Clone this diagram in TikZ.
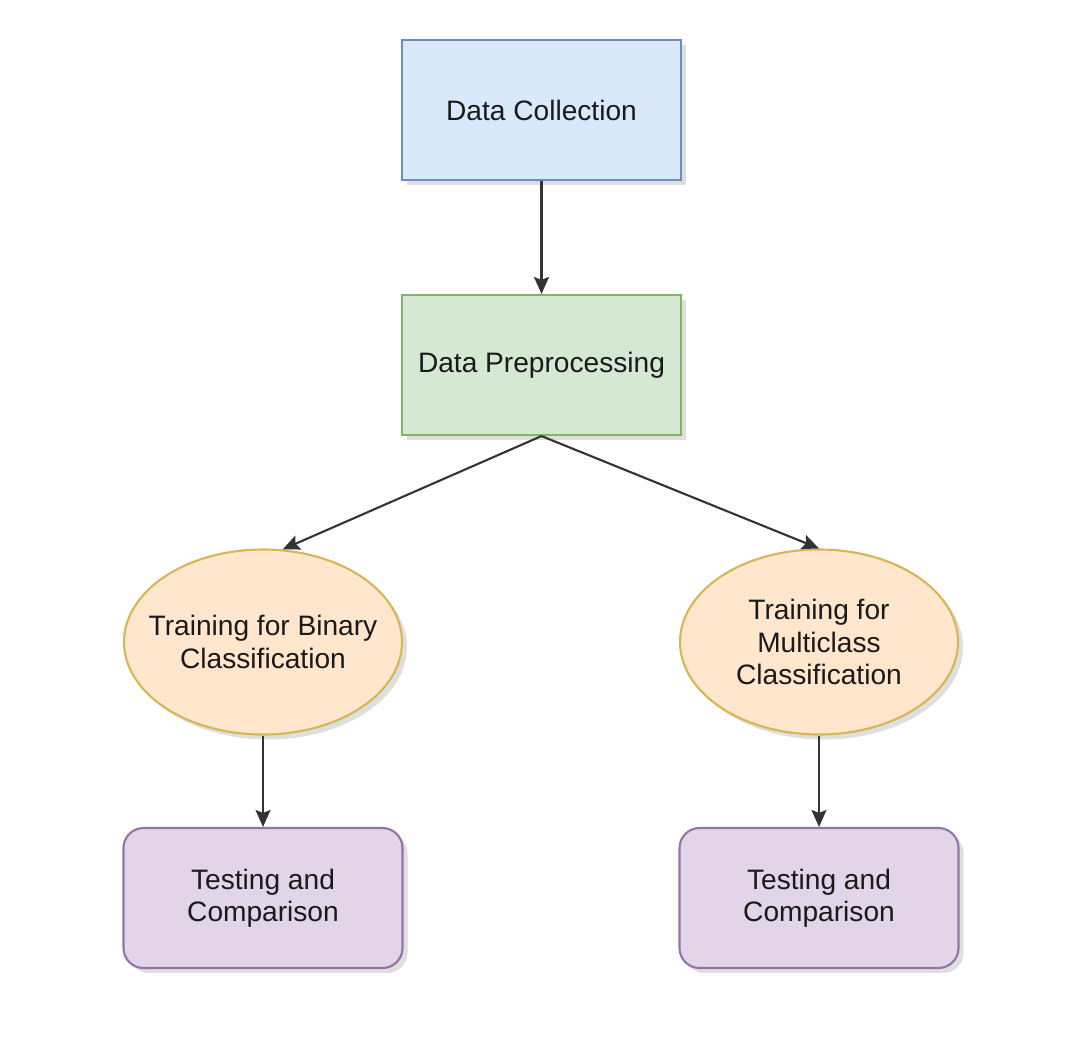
\documentclass[tikz,border=0pt]{standalone}
\usepackage{fontspec}
\setmainfont{Liberation Sans}
\usetikzlibrary{arrows.meta,shapes.geometric,shadows}

\definecolor{blueFill}{HTML}{DAE8FC}
\definecolor{blueLine}{HTML}{6C8EBF}
\definecolor{greenFill}{HTML}{D5E8D4}
\definecolor{greenLine}{HTML}{82B366}
\definecolor{orangeFill}{HTML}{FFE6CC}
\definecolor{orangeLine}{HTML}{D6B656}
\definecolor{purpleFill}{HTML}{E1D5E7}
\definecolor{purpleLine}{HTML}{9673A6}
\definecolor{textGray}{HTML}{1A1A1A}

\tikzset{
  shade box/.style={drop shadow={opacity=0.25,shadow xshift=0.05cm,shadow yshift=-0.05cm}},
  stage/.style={draw,line width=0.6pt,minimum width=2.79cm,minimum height=1.40cm,
    align=center,text=textGray,font=\fontsize{8}{9.2}\selectfont,shade box},
  trainer/.style={stage,ellipse,minimum width=2.78cm,minimum height=1.85cm,
    fill=orangeFill,draw=orangeLine,inner xsep=-0.5cm,inner ysep=0pt},
  tester/.style={stage,rounded corners=0.2cm,fill=purpleFill,draw=purpleLine},
  flow/.style={line width=0.6pt,draw=black!80,
    -{Stealth[length=0.17cm,width=0.15cm,inset=0.03cm]}}
}

\begin{document}
\begin{tikzpicture}
  \useasboundingbox (0,0) rectangle (10.8,-10.42);

  % top of the pipeline
  \node[stage,fill=blueFill,draw=blueLine] (collect) at (5.415,-1.10) {Data Collection};
  \node[stage,fill=greenFill,draw=greenLine] (prep) at (5.415,-3.65) {Data Preprocessing};

  % two training branches
  \node[trainer] (trb) at (2.63,-6.42) {Training for Binary\\Classification};
  \node[trainer] (trm) at (8.19,-6.42) {Training for\\Multiclass\\Classification};

  \node[tester] (teb) at (2.63,-8.98) {Testing and\\Comparison};
  \node[tester] (tem) at (8.19,-8.98) {Testing and\\Comparison};

  \draw[flow] (collect) -- (prep);
  \draw[flow] (prep.south) -- (trb.78);
  \draw[flow] (prep.south) -- (trm.north);
  \draw[flow] (trb) -- (teb);
  \draw[flow] (trm) -- (tem);
\end{tikzpicture}
\end{document}
